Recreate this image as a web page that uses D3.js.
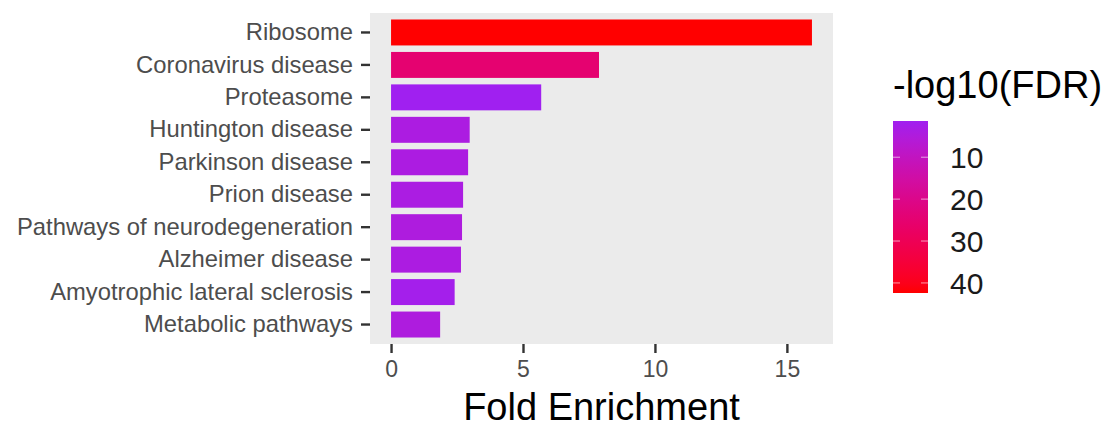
<!DOCTYPE html>
<html>
<head>
<meta charset="utf-8">
<script src="https://cdn.jsdelivr.net/npm/d3@7"></script>
<style>
  body { margin: 0; background: #fff; }
  text { font-family: "Liberation Sans", Arial, sans-serif; }
</style>
</head>
<body>
<svg id="chart" width="1119" height="428"></svg>
<script>
const pathways = ['Ribosome', 'Coronavirus disease', 'Proteasome', 'Huntington disease',
  'Parkinson disease', 'Prion disease', 'Pathways of neurodegeneration',
  'Alzheimer disease', 'Amyotrophic lateral sclerosis', 'Metabolic pathways']
const foldEnrichment = [15.95, 7.88, 5.69, 2.98, 2.92, 2.73, 2.69, 2.65, 2.41, 1.86]
const negLogFDR = [42.4, 25, 1.36, 4, 4, 3.8, 4.5, 4, 2.3, 4.5]
const xTicks = [0, 5, 10, 15]
const legendTicks = [10, 20, 30, 40]

const svg = d3.select('#chart')
const panel = { left: 370, right: 833, top: 13, bottom: 344 }

const rows = pathways.map((p, i) => ({ name: p, fe: foldEnrichment[i], fdr: negLogFDR[i] }))

// ggplot style 5% expansion
const feMax = d3.max(foldEnrichment)
const x = d3.scaleLinear()
  .domain([-0.05 * feMax, feMax * 1.05])
  .range([panel.left, panel.right])

const y = d3.scaleBand()
  .domain(pathways)
  .range([panel.top, panel.bottom])
  .paddingInner(0.2)
  .paddingOuter(0.2)

const color = d3.scaleLinear()
  .domain(d3.extent(negLogFDR))
  .range(['#a020f0', '#ff0000'])
  .interpolate(d3.interpolateLab)

svg.append('rect')
  .attr('x', panel.left).attr('y', panel.top)
  .attr('width', panel.right - panel.left)
  .attr('height', panel.bottom - panel.top)
  .attr('fill', '#ebebeb')

svg.append('g').selectAll('rect')
  .data(rows)
  .enter()
  .append('rect')
  .attr('x', x(0))
  .attr('y', d => y(d.name))
  .attr('width', d => x(d.fe) - x(0))
  .attr('height', y.bandwidth())
  .attr('fill', d => color(d.fdr))

// y axis
const yAxis = svg.append('g')
  .attr('transform', `translate(${panel.left},0)`)
  .call(d3.axisLeft(y).tickSize(9).tickPadding(8))
yAxis.select('.domain').remove()
yAxis.selectAll('line').attr('stroke', '#333').attr('stroke-width', 2.4)
yAxis.selectAll('text')
  .attr('fill', '#4d4d4d')
  .attr('font-size', '23.8px')
  .attr('font-family', '"Liberation Sans", Arial, sans-serif')

// x axis
const xAxis = svg.append('g')
  .attr('transform', `translate(0,${panel.bottom})`)
  .call(d3.axisBottom(x).tickValues(xTicks).tickSize(9).tickPadding(8))
xAxis.select('.domain').remove()
xAxis.selectAll('line').attr('stroke', '#333').attr('stroke-width', 2.4)
xAxis.selectAll('text')
  .attr('fill', '#4d4d4d')
  .attr('font-size', '23px')
  .attr('font-family', '"Liberation Sans", Arial, sans-serif')

svg.append('text')
  .text('Fold Enrichment')
  .attr('x', (panel.left + panel.right) / 2)
  .attr('y', 420)
  .attr('text-anchor', 'middle')
  .attr('font-size', '38px')
  .attr('fill', '#000')

// legend
const bar = { x: 893, w: 35, top: 121, bottom: 293 }
svg.append('text')
  .text('-log10(FDR)')
  .attr('x', bar.x)
  .attr('y', 98)
  .attr('font-size', '38px')
  .attr('fill', '#000')

const grad = svg.append('defs').append('linearGradient')
  .attr('id', 'fdrGrad')
  .attr('x1', 0).attr('y1', 0).attr('x2', 0).attr('y2', 1)
const ext = d3.extent(negLogFDR)
grad.selectAll('stop')
  .data(d3.range(0, 1.0001, 0.05))
  .enter()
  .append('stop')
  .attr('offset', d => d)
  .attr('stop-color', d => color(ext[0] + d * (ext[1] - ext[0])))

svg.append('rect')
  .attr('x', bar.x).attr('y', bar.top)
  .attr('width', bar.w).attr('height', bar.bottom - bar.top)
  .attr('fill', 'url(#fdrGrad)')

const ly = d3.scaleLinear().domain(ext).range([bar.top, bar.bottom])
const lg = svg.append('g')
lg.selectAll('.tl')
  .data(legendTicks)
  .enter()
  .append('line')
  .attr('x1', bar.x).attr('x2', bar.x + 7)
  .attr('y1', d => ly(d)).attr('y2', d => ly(d))
  .attr('stroke', '#fff').attr('stroke-opacity', 0.6).attr('stroke-width', 1)
lg.selectAll('.tr')
  .data(legendTicks)
  .enter()
  .append('line')
  .attr('x1', bar.x + bar.w - 7).attr('x2', bar.x + bar.w)
  .attr('y1', d => ly(d)).attr('y2', d => ly(d))
  .attr('stroke', '#fff').attr('stroke-opacity', 0.6).attr('stroke-width', 1)
lg.selectAll('text')
  .data(legendTicks)
  .enter()
  .append('text')
  .text(d => d)
  .attr('x', 950)
  .attr('y', d => ly(d))
  .attr('dy', '0.36em')
  .attr('font-size', '30px')
  .attr('fill', '#1a1a1a')
</script>
</body>
</html>
